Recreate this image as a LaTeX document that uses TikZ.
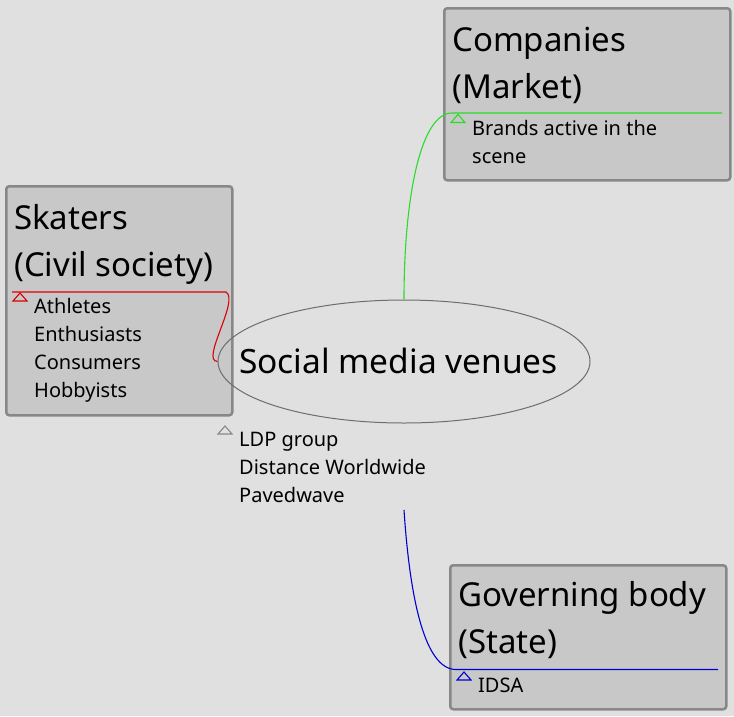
\documentclass[tikz,border=0pt]{standalone}
\usepackage{fontspec}
\setmainfont{Noto Sans}
\usetikzlibrary{shapes.geometric}
\definecolor{bggray}{RGB}{224, 224, 224}
\definecolor{boxgray}{RGB}{200, 200, 200}
\definecolor{rimgray}{RGB}{136, 136, 136}
\definecolor{mred}{RGB}{220, 0, 0}
\definecolor{mgreen}{RGB}{40, 220, 40}
\definecolor{mblue}{RGB}{0, 0, 210}
\tikzset{box/.style = {draw = rimgray, fill = boxgray, line width = 2.5, rounded corners = 3, inner sep = 0}}
\tikzset{title/.style = {anchor = base west, inner sep = 0, font = \fontsize{33}{40}\selectfont}}
\tikzset{item/.style = {anchor = base west, inner sep = 0, font = \fontsize{20}{24}\selectfont}}
\tikzset{link/.style = {line width = 1.1}}
\tikzset{tri/.pic = {\draw [line width = 1.1] (-7, 4) -- (0, -4) -- (7, 4) -- cycle;}}
\begin{document}
\begin{tikzpicture}[x = 1pt, y = -1pt]
    \fill [bggray] (0, 0) rectangle (734, 716);
    \useasboundingbox (0, 0) rectangle (734, 716);
    % boxes
    \node [box, minimum width = 226, minimum height = 229, anchor = north west] (skaters) at (5, 185) {};
    \node [box, minimum width = 286, minimum height = 172, anchor = north west] (companies) at (443, 7) {};
    \node [box, minimum width = 276, minimum height = 144, anchor = north west] (governing) at (449, 564) {};
    \node [draw = rimgray!80!black, line width = 1, ellipse, minimum width = 372, minimum height = 123, inner sep = 0] (venues) at (404, 361.5) {};
    \node [anchor = center, inner sep = 0, font = \fontsize{33.5}{40}\selectfont] (venuetext) at (398.5, 361) {Social media venues};
    % titles
    \node [title] (skt1) at (14, 229) {Skaters};
    \node [title] (skt2) at (14, 276) {(Civil society)};
    \node [title] (cot1) at (452, 51) {Companies};
    \node [title] (cot2) at (452, 98) {(Market)};
    \node [title] (got1) at (458, 606) {Governing body};
    \node [title] (got2) at (458, 653) {(State)};
    % lists
    \foreach \t [count = \i from 0] in {Athletes, Enthusiasts, Consumers, Hobbyists}
      \node [item] (sk\i) at (34, 313 + 28*\i) {\t};
    \node [item] (co0) at (472, 135) {Brands active in the};
    \node [item] (co1) at (472, 163) {scene};
    \foreach \t [count = \i from 0] in {LDP group, Distance Worldwide, Pavedwave}
      \node [item] (ldp\i) at (239, 446 + 28*\i) {\t};
    \node [item] (go0) at (478, 692) {IDSA};
    % connectors
    \coordinate (skL) at (12, 292);
    \coordinate (skR) at (226, 292);
    \coordinate (coL) at (452, 113);
    \coordinate (coR) at (722, 113);
    \coordinate (ldpend) at (404, 510);
    \coordinate (goL) at (456, 669.5);
    \coordinate (goR) at (718, 669.5);
    \draw [link, mred] (venues.west) .. controls (200, 361) and (240, 300) .. (skR) -- (skL);
    \draw [link, mgreen] (venues.north) .. controls (404, 200) and (420, 113) .. (coL) -- (coR);
    \draw [link, mblue] (ldpend) .. controls (410, 600) and (425, 669.5) .. (goL) -- (goR);
    % markers
    \pic [mred] at (20, 297) {tri};
    \pic [mgreen] at (458, 118.5) {tri};
    \pic [rimgray] at (225, 430) {tri};
    \pic [mblue] at (464, 676) {tri};
  \end{tikzpicture}
\end{document}
